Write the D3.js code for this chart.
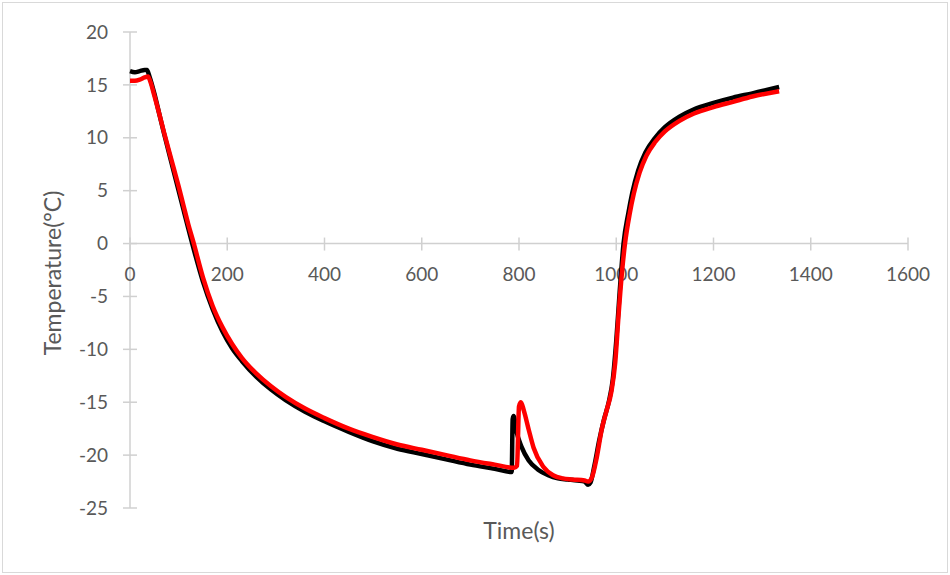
<!DOCTYPE html>
<html>
<head>
    <title>Temperature over time</title>
    <script src="https://cdn.jsdelivr.net/npm/d3@7"></script>
    <style>
        body {
            margin: 0;
            background: white;
            font-family: Lato, "Open Sans", sans-serif;
        }
    </style>
</head>
<body>
    <svg id="visSvg"></svg>
<script>
    // Values (time in s, temperature in degC)
    let timeBlack = [0, 10, 20, 30, 35, 40, 50, 60, 70, 80, 90, 100, 110, 120, 135, 150, 170, 190, 210, 230,
        260, 290, 320, 360, 400, 450, 500, 550, 600, 650, 700, 750, 785, 787, 789, 795, 805, 820, 840, 860,
        880, 900, 920, 935, 942, 947, 955, 965, 975, 985, 993, 1000, 1007, 1015, 1025, 1033, 1045, 1060,
        1080, 1100, 1130, 1160, 1200, 1240, 1280, 1335];
    let tempBlack = [16.3, 16.2, 16.3, 16.4, 16.4, 15.8, 14.2, 12.3, 10.4, 8.6, 6.8, 5.0, 3.2, 1.4, -1.2, -3.6, -6.2, -8.3, -9.9, -11.1,
        -12.6, -13.8, -14.8, -15.9, -16.8, -17.8, -18.7, -19.4, -19.9, -20.4, -20.9, -21.3, -21.6, -16.6, -16.3, -17.8, -19.2, -20.5, -21.4, -21.9,
        -22.2, -22.3, -22.4, -22.5, -22.8, -22.6, -21.0, -18.6, -16.6, -14.9, -12.8, -9.2, -4.6, 0.0, 2.9, 4.8, 6.9, 8.6,
        10.0, 11.0, 12.0, 12.7, 13.3, 13.8, 14.2, 14.8];

    let timeRed = [0, 10, 20, 30, 37, 42, 50, 60, 70, 80, 90, 100, 110, 120, 130, 150, 170, 190, 210, 230,
        260, 290, 320, 360, 400, 450, 500, 550, 600, 650, 700, 750, 790, 796, 800, 804, 810, 820, 830, 850,
        870, 890, 910, 935, 942, 950, 960, 970, 980, 990, 998, 1005, 1012, 1018, 1028, 1036, 1048, 1062,
        1080, 1100, 1130, 1160, 1200, 1240, 1280, 1335];
    let tempRed = [15.4, 15.4, 15.5, 15.7, 15.8, 15.3, 14.0, 12.3, 10.5, 8.8, 7.1, 5.4, 3.6, 1.8, 0.2, -3.2, -5.9, -7.9, -9.5, -10.8,
        -12.3, -13.5, -14.5, -15.6, -16.5, -17.5, -18.3, -19.0, -19.5, -20.0, -20.5, -20.9, -21.2, -21.0, -15.4, -15.0, -15.8, -17.6, -19.3, -21.1,
        -21.9, -22.2, -22.3, -22.4, -22.5, -22.1, -20.2, -17.6, -15.8, -14.0, -11.2, -6.6, -2.6, 0.0, 2.9, 4.7, 6.7, 8.3,
        9.6, 10.6, 11.6, 12.3, 12.9, 13.4, 13.9, 14.4];

    let xTicks = [0, 200, 400, 600, 800, 1000, 1200, 1400, 1600];
    let yTicks = [20, 15, 10, 5, 0, -5, -10, -15, -20, -25];

    /* Layout constants */
    let width = 950,
        height = 575,
        margin = { top: 32, right: 42, bottom: 67, left: 130 };

    let svg = d3.select("#visSvg")
        .attr("width", width)
        .attr("height", height);

    // light grey frame round the chart
    svg.append("rect")
        .attr("x", 2.5)
        .attr("y", 2.5)
        .attr("width", width - 5)
        .attr("height", height - 5)
        .attr("fill", "white")
        .attr("stroke", "#d9d9d9")
        .attr("stroke-width", 1);

    let x = d3.scaleLinear().domain([0, 1600]).range([margin.left, width - margin.right]);
    let y = d3.scaleLinear().domain([-25, 20]).range([height - margin.bottom, margin.top]);

    let axisColor = "#d0d0d0";
    let textColor = "#595959";

    // y axis with cross tick marks
    let yAxis = svg.append("g");
    yAxis.append("line")
        .attr("x1", x(0)).attr("x2", x(0))
        .attr("y1", y(20)).attr("y2", y(-25))
        .attr("stroke", axisColor).attr("stroke-width", 1.5);
    yAxis.selectAll(".tick")
        .data(yTicks)
        .enter()
        .append("line")
        .attr("x1", x(0) - 7).attr("x2", x(0) + 7)
        .attr("y1", d => y(d)).attr("y2", d => y(d))
        .attr("stroke", axisColor).attr("stroke-width", 1.5);
    yAxis.selectAll("text")
        .data(yTicks)
        .enter()
        .append("text")
        .attr("x", x(0) - 22)
        .attr("y", d => y(d))
        .attr("dy", "0.35em")
        .attr("text-anchor", "end")
        .attr("fill", textColor)
        .style("font-size", "19px")
        .text(d => d);

    // x axis sits on the zero line
    let xAxis = svg.append("g");
    xAxis.append("line")
        .attr("x1", x(0)).attr("x2", x(1600))
        .attr("y1", y(0)).attr("y2", y(0))
        .attr("stroke", axisColor).attr("stroke-width", 1.5);
    xAxis.selectAll(".tick")
        .data(xTicks)
        .enter()
        .append("line")
        .attr("x1", d => x(d)).attr("x2", d => x(d))
        .attr("y1", y(0) - 6).attr("y2", y(0) + 7)
        .attr("stroke", axisColor).attr("stroke-width", 1.5);
    xAxis.selectAll("text")
        .data(xTicks)
        .enter()
        .append("text")
        .attr("x", d => x(d))
        .attr("y", y(0) + 37)
        .attr("text-anchor", "middle")
        .attr("fill", textColor)
        .style("font-size", "19px")
        .text(d => d);

    // axis titles
    svg.append("text")
        .attr("transform", `translate(61,${(y(20) + y(-25)) / 2 + 3}) rotate(-90)`)
        .attr("text-anchor", "middle")
        .attr("fill", textColor)
        .style("font-size", "23px")
        .text("Temperature(°C)");

    svg.append("text")
        .attr("x", 519)
        .attr("y", 539)
        .attr("text-anchor", "middle")
        .attr("fill", textColor)
        .style("font-size", "23px")
        .text("Time(s)");

    // the two measured curves, black first so red lies on top
    let line = d3.line()
        .x(d => x(d[0]))
        .y(d => y(d[1]))
        .curve(d3.curveMonotoneX);

    let series = [
        { color: "#000000", points: d3.zip(timeBlack, tempBlack) },
        { color: "#ff0000", points: d3.zip(timeRed, tempRed) }
    ];

    for (let s of series) {
        svg.append("path")
            .datum(s.points)
            .attr("d", line)
            .attr("fill", "none")
            .attr("stroke", s.color)
            .attr("stroke-width", 4.5)
            .attr("stroke-linejoin", "round");
    }
</script>
</body>
</html>
